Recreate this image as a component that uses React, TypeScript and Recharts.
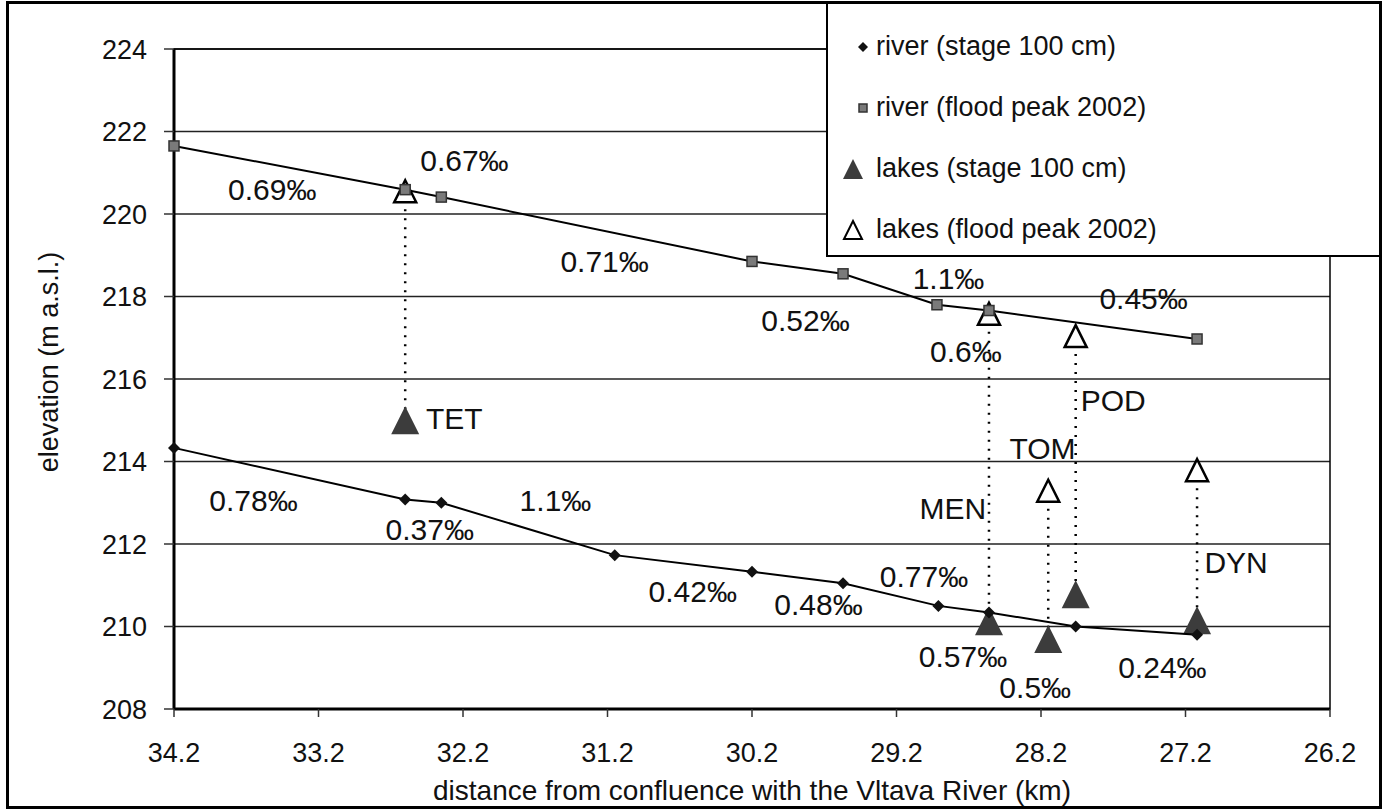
import { ComposedChart, Scatter, XAxis, YAxis, CartesianGrid, ReferenceArea, Legend } from 'recharts';

const FONT = '"Liberation Sans", Arial, sans-serif';

const kmTicks = [34.2, 33.2, 32.2, 31.2, 30.2, 29.2, 28.2, 27.2, 26.2];
const elevTicks = [208, 210, 212, 214, 216, 218, 220, 222, 224];

// river, stage 100 cm
const stageKm = [34.2, 32.6, 32.35, 31.15, 30.2, 29.57, 28.91, 28.56, 27.96, 27.12];
const stageElev = [214.33, 213.08, 213.0, 211.73, 211.33, 211.05, 210.5, 210.34, 210.0, 209.8];

// river, flood peak 2002
const floodKm = [34.2, 32.6, 32.35, 30.2, 29.57, 28.92, 28.56, 27.12];
const floodElev = [221.65, 220.59, 220.41, 218.85, 218.55, 217.8, 217.66, 216.97];

// lakes
const lakeNames = ['TET', 'MEN', 'TOM', 'POD', 'DYN'];
const lakeKm = [32.6, 28.56, 28.15, 27.96, 27.12];
const lakeStage = [215.0, 210.13, 209.7, 210.78, 210.15];
const lakeFlood = [220.55, 217.58, 213.29, 217.04, 213.79];
const lakeLabelKm = [32.26, 28.81, 28.19, 27.7, 26.85];
const lakeLabelElev = [215.04, 212.85, 214.32, 215.47, 211.56];

// slope annotations
const slopeText = [
  '0.69‰', '0.67‰', '0.71‰', '0.52‰', '1.1‰', '0.6‰', '0.45‰',
  '0.78‰', '0.37‰', '1.1‰', '0.42‰', '0.48‰', '0.77‰', '0.57‰', '0.5‰', '0.24‰',
];
const slopeKm = [33.52, 32.19, 31.22, 29.83, 28.84, 28.72, 27.49, 33.65, 32.43, 31.56, 30.61, 29.74, 29.01, 28.74, 28.24, 27.36];
const slopeElev = [220.59, 221.29, 218.85, 217.43, 218.44, 216.66, 217.96, 213.05, 212.36, 213.05, 210.86, 210.54, 211.22, 209.28, 208.51, 209.0];

const legendItems = [
  { name: 'river (stage 100 cm)', kind: 'diamond' },
  { name: 'river (flood peak 2002)', kind: 'square' },
  { name: 'lakes (stage 100 cm)', kind: 'filled' },
  { name: 'lakes (flood peak 2002)', kind: 'open' },
];

const toPts = (xs: number[], ys: number[]) => xs.map((x, i) => ({ x, y: ys[i] }));

const Diamond = ({ cx, cy }: any) => (
  <path d={`M${cx},${cy - 6}L${cx + 6},${cy}L${cx},${cy + 6}L${cx - 6},${cy}Z`} fill="#111" />
);
const Square = ({ cx, cy }: any) => (
  <rect x={cx - 5} y={cy - 5} width={10} height={10} fill="#7a7a7a" stroke="#333" strokeWidth={1.5} />
);
const FilledTri = ({ cx, cy }: any) => (
  <path d={`M${cx},${cy - 14}L${cx + 14},${cy + 14}L${cx - 14},${cy + 14}Z`} fill="#3c3c3c" />
);
const OpenTri = ({ cx, cy }: any) => (
  <path d={`M${cx},${cy - 11}L${cx + 11},${cy + 11}L${cx - 11},${cy + 11}Z`} fill="#fff" stroke="#000" strokeWidth={2.5} />
);
const NoDot = () => <g />;
const TextMark = ({ cx, cy, payload }: any) => (
  <text x={cx} y={cy} textAnchor="middle" dominantBaseline="central" fontSize={30} fontFamily={FONT} fill="#111">
    {payload.label}
  </text>
);

function LegendBox() {
  return (
    <div
      style={{
        width: 555, height: 255, background: '#fff', borderLeft: '2px solid #000', borderBottom: '2px solid #000',
        boxSizing: 'border-box', fontFamily: FONT, fontSize: 27, color: '#111', paddingTop: 14,
      }}
    >
      {legendItems.map((it) => (
        <div key={it.name} style={{ display: 'flex', alignItems: 'center', height: 61, paddingLeft: 12 }}>
          <svg width={34} height={30} style={{ flexShrink: 0 }}>
            {it.kind === 'diamond' && <path d="M23,10L28,15L23,20L18,15Z" fill="#111" />}
            {it.kind === 'square' && <rect x={19} y={11} width={8} height={8} fill="#7a7a7a" stroke="#333" strokeWidth={1.5} />}
            {it.kind === 'filled' && <path d="M13,5L23,25L3,25Z" fill="#3c3c3c" />}
            {it.kind === 'open' && <path d="M13,6L22,24L4,24Z" fill="#fff" stroke="#000" strokeWidth={2} />}
          </svg>
          <span style={{ marginLeft: 2 }}>{it.name}</span>
        </div>
      ))}
    </div>
  );
}

const YTitle = () => (
  <text x={49} y={362} transform="rotate(-90 49 362)" textAnchor="middle" dominantBaseline="central" fontSize={27} fontFamily={FONT} fill="#111">
    elevation (m a.s.l.)
  </text>
);

export default function App() {
  const stage = toPts(stageKm, stageElev);
  const flood = toPts(floodKm, floodElev);
  const lakesLow = toPts(lakeKm, lakeStage);
  const lakesHigh = toPts(lakeKm, lakeFlood);
  const slopeLabels = slopeKm.map((x, i) => ({ x, y: slopeElev[i], label: slopeText[i] }));
  const lakeLabels = lakeLabelKm.map((x, i) => ({ x, y: lakeLabelElev[i], label: lakeNames[i] }));

  return (
    <div style={{ position: 'absolute', left: 0, top: 0, width: 1384, height: 811, background: '#fff' }}>
      <ComposedChart width={1384} height={811} margin={{ top: 49, right: 54, bottom: 0, left: 0 }}>
        <CartesianGrid vertical={false} stroke="#222" strokeWidth={1.5} />
        <XAxis
          type="number"
          dataKey="x"
          domain={[26.2, 34.2]}
          reversed
          ticks={kmTicks}
          tickFormatter={(v: number) => v.toFixed(1)}
          height={102}
          tickSize={8}
          tickMargin={26}
          axisLine={{ stroke: '#000', strokeWidth: 3 }}
          tickLine={{ stroke: '#333', strokeWidth: 1.5 }}
          tick={{ fill: '#111', fontSize: 27, fontFamily: FONT }}
          label={{ value: 'distance from confluence with the Vltava River (km)', position: 'insideBottom', offset: 11, fill: '#111', fontSize: 28, fontFamily: FONT }}
        />
        <YAxis
          type="number"
          dataKey="y"
          domain={[208, 224]}
          ticks={elevTicks}
          width={174}
          tickSize={10}
          tickMargin={17}
          axisLine={{ stroke: '#000', strokeWidth: 3 }}
          tickLine={{ stroke: '#333', strokeWidth: 1.5 }}
          tick={{ fill: '#111', fontSize: 27, fontFamily: FONT }}
          label={<YTitle />}
        />
        <ReferenceArea x1={34.2} x2={26.2} y1={208} y2={224} fill="none" stroke="#000" strokeWidth={1.5} />

        {lakeKm.map((km, i) => (
          <Scatter
            key={'drop-' + lakeNames[i]}
            data={[{ x: km, y: lakeFlood[i] }, { x: km, y: lakeStage[i] }]}
            line={{ stroke: '#000', strokeWidth: 2.5, strokeDasharray: '2 7' }}
            shape={NoDot}
            isAnimationActive={false}
          />
        ))}
        <Scatter data={lakesHigh} shape={OpenTri} isAnimationActive={false} />
        <Scatter data={flood} line={{ stroke: '#000', strokeWidth: 2 }} shape={Square} isAnimationActive={false} />
        <Scatter data={lakesLow} shape={FilledTri} isAnimationActive={false} />
        <Scatter data={stage} line={{ stroke: '#000', strokeWidth: 2 }} shape={Diamond} isAnimationActive={false} />
        <Scatter data={slopeLabels} shape={TextMark} isAnimationActive={false} />
        <Scatter data={lakeLabels} shape={TextMark} isAnimationActive={false} />

        <Legend
          layout="vertical"
          align="center"
          verticalAlign="middle"
          content={() => <LegendBox />}
          wrapperStyle={{ left: 826, top: 2, width: 555, height: 255 }}
        />
      </ComposedChart>
      <div style={{ position: 'absolute', left: 6, top: 1, width: 1376, height: 808, border: '3px solid #000', boxSizing: 'border-box', pointerEvents: 'none' }} />
    </div>
  );
}
